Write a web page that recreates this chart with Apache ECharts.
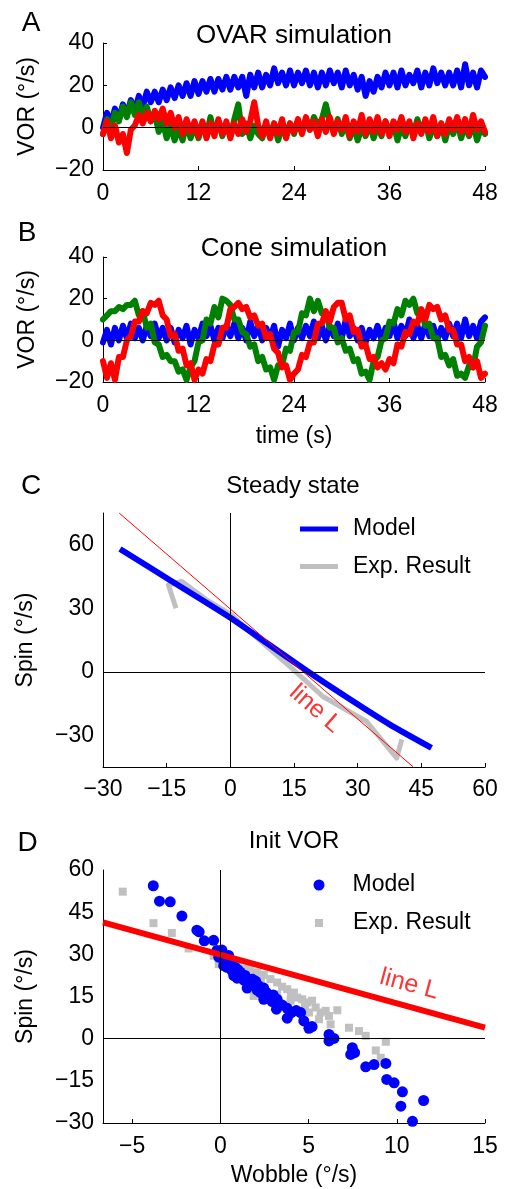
<!DOCTYPE html>
<html>
<head>
<meta charset="utf-8">
<script src="https://cdn.jsdelivr.net/npm/echarts@6/dist/echarts.min.js"></script>
<style>
html, body { margin: 0; padding: 0; background: #fff; }
#chart { width: 505px; height: 1189px; }
</style>
</head>
<body>
<div id="chart"></div>
<script>
// time step of the simulated traces (s)
const dt = 0.5;

// A: OVAR simulation, VOR (deg/s), one value every 0.5 s from 0 to 48 s
const ovarBlue = [
  0, 7, 2, 9, 4, 11, 6, 13,
  8, 15, 10, 17, 12, 17, 12, 18,
  13, 19, 14, 20, 15, 21, 15, 22,
  16, 22, 17, 23, 17, 23, 18, 24,
  18, 24, 19, 24, 15, 25, 19, 26,
  19, 25, 20, 28, 21, 26, 20, 27,
  20, 26, 21, 27, 20, 26, 19, 26,
  20, 27, 21, 26, 19, 27, 20, 25,
  18, 24, 15, 22, 17, 24, 19, 26,
  20, 26, 19, 27, 20, 25, 21, 27,
  19, 26, 20, 28, 21, 26, 20, 26,
  20, 27, 19, 30, 20, 26, 19, 27,
  24
];
const ovarGreen = [
  -3, 4, 0, 7, 3, 10, 5, 12,
  6, 12, 5, 10, 3, 7, -2, 3,
  -5, 1, -6, 0, -6, 2, -5, 1,
  -5, 2, -4, 5, -3, 3, -4, 2,
  -4, 4, 11, -3, 2, -5, 1, -3,
  -5, 1, -4, 2, -6, 0, -4, 2,
  -3, 3, -2, 4, -1, 5, 1, 4,
  11, 3, -2, 4, -3, 2, -5, 1,
  -6, 0, -4, 2, -5, 1, -4, 3,
  -3, 2, -6, 1, -4, 2, -3, 4,
  -2, 3, -5, 1, -4, 2, -6, 1,
  -3, 3, -5, 1, -4, 2, -6, 0,
  -3
];
const ovarRed = [
  -3, 3, -5, 1, -7, -3, -12, -1,
  1, 6, 2, 7, 3, 8, 4, 9,
  2, 7, 0, 5, -3, 4, -2, 3,
  -4, 3, -5, 2, -4, 4, -3, 3,
  -5, 2, -3, 4, -2, 3, 12, 1,
  -4, 3, -5, 2, -3, 4, -5, 2,
  -2, 4, -3, 5, -1, 3, -4, 4,
  -2, 5, -3, 3, -1, 5, -4, 3,
  -2, 6, -3, 4, -2, 5, -3, 3,
  -4, 3, -1, 5, -2, 3, -5, 2,
  -3, 4, -2, 5, -4, 2, -3, 4,
  -1, 5, -2, 4, -3, 6, -1, 3,
  -2
];

// B: Cone simulation
const coneBlue = [
  -1, 5, -2, 6, 0, 7, 1, 8,
  1, 6, 0, 7, 2, 8, 1, 6,
  0, 6, -1, 5, 1, 7, -2, 5,
  1, 8, 2, 7, 0, 6, 1, 7,
  2, 8, 1, 6, 0, 9, 2, 7,
  0, 6, 1, 7, -3, 5, 1, 8,
  0, 6, 1, 7, 2, 9, 1, 7,
  0, 7, 2, 8, 1, 10, 2, 6,
  0, 6, -1, 5, 1, 7, 0, 6,
  2, 9, 1, 7, 2, 10, 1, 7,
  1, 8, 2, 7, 0, 6, 1, 8,
  2, 8, 1, 10, 2, 7, 1, 9,
  11
];
const coneGreen = [
  10, 12, 14, 14, 16, 15, 17, 17,
  19, 12, 14, 6, 8, -1, -2, -8,
  -7, -10, -10, -15, -14, -19, -13, -10,
  -1, 0, 10, 8, 16, 11, 20, 19,
  17, 10, 10, 4, 3, -3, -2, -10,
  -8, -14, -13, -19, -12, -12, -4, -5,
  4, 4, 13, 12, 20, 14, 19, 13,
  13, 6, 6, -1, 1, -5, -4, -10,
  -9, -16, -15, -19, -10, -8, 0, 1,
  9, 8, 15, 12, 19, 17, 20, 13,
  14, 7, 8, 1, 1, -8, -7, -12,
  -9, -17, -16, -18, -12, -13, -3, -1,
  7
];
const coneRed = [
  -10, -18, -11, -19, -8, -8, 0, 2,
  9, 9, 14, 13, 18, 17, 19, 12,
  10, 2, 3, -5, -4, -12, -11, -19,
  -14, -16, -9, -10, -2, -2, 6, 6,
  15, 16, 18, 15, 16, 11, 12, 7,
  8, 1, 3, -4, -6, -13, -12, -19,
  -16, -14, -7, -8, -1, -1, 8, 8,
  14, 9, 16, 18, 18, 10, 12, 4,
  5, -3, -2, -9, -8, -13, -11, -14,
  -9, -11, -2, -3, 4, 3, 9, 8,
  15, 10, 17, 15, 16, 10, 12, 5,
  5, -2, -2, -10, -8, -13, -10, -18,
  -16
];

// C: steady state, [wobble, spin]
const steadyModel = [[-26, 58], [-14, 43], [0, 25.5], [9, 13], [18, 0.5], [27, -11.5], [37.6, -25], [47.4, -36]];
const steadyExp = [[-12.8, 30], [-14.6, 41], [-11.5, 42.7], [-5.6, 34], [0.2, 27], [2.3, 23], [14, 2.5], [21.8, -11.7], [32.1, -23.5], [39.2, -40.8], [40.4, -32]];
const steadyLineL = [[-26.2, 75], [43.1, -45]];

// D: init VOR, [wobble, spin]
const initModel = [
  [-3.8, 54.4], [-3.45, 48.9], [-2.84, 48.7], [-2.18, 43.6], [-1.33, 38.6], [-1.2, 38], [-0.91, 34.8],
  [-0.38, 35], [-0.19, 31.4], [0.09, 31.5], [-0.09, 29], [0.47, 29.6], [0.19, 26], [0.38, 25.4],
  [0.3, 28], [0.57, 27.1], [0.66, 24.2], [0.76, 22.4], [0.85, 25.4], [0.95, 21.5], [1.0, 24.5],
  [1.14, 23.6], [1.23, 22.4], [1.33, 20.8], [1.4, 22.5], [1.52, 18], [1.61, 20], [1.8, 21.2],
  [1.89, 19.4], [2.0, 20.5], [2.08, 17.3], [2.18, 18.8], [2.27, 16.4], [2.46, 18], [2.46, 14],
  [2.6, 16.5], [2.75, 15.6], [2.94, 13.2], [3.0, 15.5], [3.22, 14], [3.18, 10.5], [3.5, 12],
  [3.79, 10.8], [3.79, 7.3], [4.02, 9.3], [4.3, 10], [4.55, 9.3], [4.73, 6.3], [5.02, 3.7],
  [5.2, 4.3], [6.16, 1.5], [6.16, -0.8], [6.44, 0.1], [7.48, -3.2], [7.61, -5], [7.39, -5.6],
  [8.24, -10], [8.71, -9.2], [9.38, -8.8], [9.43, -14.5], [9.85, -15.7], [10.32, -18.9],
  [10.23, -24], [10.89, -29.4], [11.52, -22]
];
const initExp = [
  [-5.53, 52.3], [-3.79, 41.1], [-2.75, 37.6], [-1.8, 32.1], [-0.38, 29.5], [-0.09, 26.5],
  [0.5, 27.5], [1.0, 26], [1.3, 25], [1.7, 24.8], [2.08, 23.6], [2.46, 22.7], [2.84, 21.2],
  [3.22, 20], [3.5, 18.5], [3.79, 17.6], [4.17, 16.4], [4.36, 14.6], [4.64, 14], [4.92, 12.9],
  [5.2, 13.5], [5.4, 11.1], [5.68, 9.3], [5.97, 9.9], [6.16, 8.1], [6.63, 10.1], [6.25, 5.1],
  [7.29, 3.9], [7.86, 2.7], [8.24, 1], [8.81, -4.2], [9.38, -1.1], [9.09, -6.8], [1.89, 15.2],
  [3.22, 15.8], [3.98, 13.5], [5.02, 9.3], [5.59, 6.9], [2.3, 20], [4.0, 15.5], [4.8, 11.5]
];
const initLineL = [[-6.65, 41.4], [15, 3.9]];

// tick labels
const steadySpinTicks = [-30, 0, 30, 60];
const wobbleTicks = [-5, 0, 5, 10, 15];

const FONT = '"Liberation Sans", Arial, Helvetica, sans-serif';
const BLUE = '#0000ff', GREEN = '#008000', RED = '#ff0000', GRAY = '#c0c0c0';
const minus = v => (v < 0 ? '\u2212' + Math.abs(v) : String(v));
const toPairs = vals => vals.map((v, i) => [i * dt, v]);

const tickLabel = margin => ({ fontSize: 23, color: '#000', fontFamily: FONT, margin: margin, formatter: minus });
const blackLine = { show: true, onZero: false, lineStyle: { color: '#000', width: 1 } };

function trace(vals, color, idx) {
  return {
    type: 'line', xAxisIndex: idx, yAxisIndex: idx, data: toPairs(vals),
    showSymbol: false, silent: true, color: color,
    lineStyle: { color: color, width: 6, cap: 'round', join: 'round' }
  };
}

function zeroLines(idx, marks) {
  return {
    type: 'line', xAxisIndex: idx, yAxisIndex: idx, data: [], z: 1, silent: true,
    markLine: {
      symbol: 'none', silent: true, animation: false, label: { show: false },
      lineStyle: { color: '#000', width: 1, type: 'solid' },
      data: marks
    }
  };
}

function textLabel(text, x, y, size) {
  return {
    type: 'text', x: x, y: y, silent: true,
    style: { text: text, fontSize: size, fontFamily: FONT, fill: '#000', align: 'center', verticalAlign: 'middle' }
  };
}

const timeX = idx => ({
  gridIndex: idx, type: 'value', min: 0, max: 48, interval: 12,
  axisLine: blackLine, axisTick: { inside: true, length: 4, lineStyle: { color: '#000' } },
  axisLabel: tickLabel(12), splitLine: { show: false }
});
const vorY = idx => ({
  gridIndex: idx, type: 'value', min: -20, max: 40, interval: 20,
  name: 'VOR (°/s)', nameLocation: 'middle', nameGap: 64,
  nameTextStyle: { fontSize: 23, color: '#000', fontFamily: FONT },
  axisLine: blackLine, axisTick: { inside: true, length: 4, lineStyle: { color: '#000' } },
  axisLabel: tickLabel(9), splitLine: { show: false }
});

const chart = echarts.init(document.getElementById('chart'));
chart.setOption({
  animation: false,
  backgroundColor: '#fff',
  textStyle: { fontFamily: FONT },
  grid: [
    { left: 103, top: 43, width: 382, height: 127 },
    { left: 103, top: 257, width: 382, height: 125 },
    { left: 103, top: 513, width: 382, height: 254 },
    { left: 103, top: 870, width: 382, height: 253 }
  ],
  xAxis: [
    timeX(0),
    Object.assign(timeX(1), {
      name: 'time (s)', nameLocation: 'middle', nameGap: 43,
      nameTextStyle: { fontSize: 23, color: '#000', fontFamily: FONT }
    }),
    {
      gridIndex: 2, type: 'value', min: -30, max: 60, interval: 15,
      axisLine: blackLine, axisTick: { inside: true, length: 4, lineStyle: { color: '#000' } },
      axisLabel: tickLabel(11.5), splitLine: { show: false }
    },
    {
      gridIndex: 3, type: 'value', min: -6.65, max: 15,
      name: 'Wobble (°/s)', nameLocation: 'middle', nameGap: 41,
      nameTextStyle: { fontSize: 23, color: '#000', fontFamily: FONT },
      axisLine: blackLine,
      axisTick: { inside: true, length: 4, customValues: wobbleTicks, lineStyle: { color: '#000' } },
      axisLabel: Object.assign(tickLabel(12), { customValues: wobbleTicks }),
      splitLine: { show: false }
    }
  ],
  yAxis: [
    vorY(0),
    vorY(1),
    {
      gridIndex: 2, type: 'value', min: -45, max: 75,
      name: 'Spin (°/s)', nameLocation: 'middle', nameGap: 66,
      nameTextStyle: { fontSize: 23, color: '#000', fontFamily: FONT },
      axisLine: blackLine, axisTick: { show: false },
      axisLabel: Object.assign(tickLabel(9), { customValues: steadySpinTicks }),
      splitLine: { show: false }
    },
    {
      gridIndex: 3, type: 'value', min: -30, max: 60, interval: 15,
      name: 'Spin (°/s)', nameLocation: 'middle', nameGap: 66,
      nameTextStyle: { fontSize: 23, color: '#000', fontFamily: FONT },
      axisLine: blackLine, axisTick: { show: false },
      axisLabel: tickLabel(9), splitLine: { show: false }
    }
  ],
  legend: [
    {
      left: 300, top: 517.5, orient: 'vertical', padding: 0,
      itemWidth: 38, itemHeight: 5, itemGap: 14.5, selectedMode: false,
      data: [{ name: 'Model', icon: 'rect' }, { name: 'Exp. Result', icon: 'rect' }],
      textStyle: { fontSize: 23, color: '#000', fontFamily: FONT, padding: [0, 0, 0, 10] }
    },
    {
      left: 313.5, top: 873.5, padding: 0, itemWidth: 11, itemHeight: 11, selectedMode: false,
      data: [{ name: 'Model', icon: 'circle' }],
      textStyle: { fontSize: 23, color: '#000', fontFamily: FONT, padding: [0, 0, 0, 23] }
    },
    {
      left: 315, top: 911.5, padding: 0, itemWidth: 8, itemHeight: 8, selectedMode: false,
      data: [{ name: 'Exp. Result', icon: 'rect' }],
      textStyle: { fontSize: 23, color: '#000', fontFamily: FONT, padding: [0, 0, 0, 25] }
    }
  ],
  graphic: [
    textLabel('A', 31, 23.3, 28),
    textLabel('B', 27, 233.3, 28),
    textLabel('C', 31, 486.7, 28),
    textLabel('D', 27.5, 843, 28),
    textLabel('OVAR simulation', 294, 35.5, 26),
    textLabel('Cone simulation', 294, 249, 26),
    textLabel('Steady state', 293, 486.7, 24),
    textLabel('Init VOR', 294, 841.7, 24)
  ],
  series: [
    zeroLines(0, [{ yAxis: 0 }]),
    trace(ovarBlue, BLUE, 0),
    trace(ovarGreen, GREEN, 0),
    trace(ovarRed, RED, 0),

    zeroLines(1, [{ yAxis: 0 }]),
    trace(coneBlue, BLUE, 1),
    trace(coneGreen, GREEN, 1),
    trace(coneRed, RED, 1),

    zeroLines(2, [{ xAxis: 0 }, { yAxis: 0 }]),
    {
      name: 'Exp. Result', type: 'line', xAxisIndex: 2, yAxisIndex: 2, data: steadyExp,
      showSymbol: false, silent: true, color: GRAY, itemStyle: { color: GRAY },
      lineStyle: { color: GRAY, width: 5, join: 'round' }
    },
    {
      name: 'Model', type: 'line', xAxisIndex: 2, yAxisIndex: 2, data: steadyModel, smooth: 0.2,
      showSymbol: false, silent: true, color: BLUE, itemStyle: { color: BLUE },
      lineStyle: { color: BLUE, width: 6 }
    },
    {
      type: 'line', xAxisIndex: 2, yAxisIndex: 2, data: steadyLineL,
      showSymbol: false, silent: true, lineStyle: { color: RED, width: 1 }
    },
    {
      type: 'scatter', xAxisIndex: 2, yAxisIndex: 2, data: [[20, -17.5]], symbolSize: 1, silent: true,
      itemStyle: { color: 'transparent' },
      label: { show: true, position: 'inside', formatter: 'line L', rotate: -41, fontSize: 25, color: RED, fontFamily: FONT }
    },

    zeroLines(3, [{ xAxis: 0 }, { yAxis: 0 }]),
    {
      name: 'Exp. Result', type: 'scatter', xAxisIndex: 3, yAxisIndex: 3, data: initExp,
      symbol: 'rect', symbolSize: 8, silent: true, color: GRAY, itemStyle: { color: GRAY, opacity: 1 }
    },
    {
      type: 'line', xAxisIndex: 3, yAxisIndex: 3, data: initLineL,
      showSymbol: false, silent: true, lineStyle: { color: RED, width: 6 }
    },
    {
      name: 'Model', type: 'scatter', xAxisIndex: 3, yAxisIndex: 3, data: initModel,
      symbol: 'circle', symbolSize: 11, silent: true, color: BLUE, itemStyle: { color: BLUE, opacity: 1 }
    },
    {
      type: 'scatter', xAxisIndex: 3, yAxisIndex: 3, data: [[10.7, 19.3]], symbolSize: 1, silent: true,
      itemStyle: { color: 'transparent' },
      label: { show: true, position: 'inside', formatter: 'line L', rotate: -15, fontSize: 25, color: RED, fontFamily: FONT }
    }
  ]
});
</script>
</body>
</html>
